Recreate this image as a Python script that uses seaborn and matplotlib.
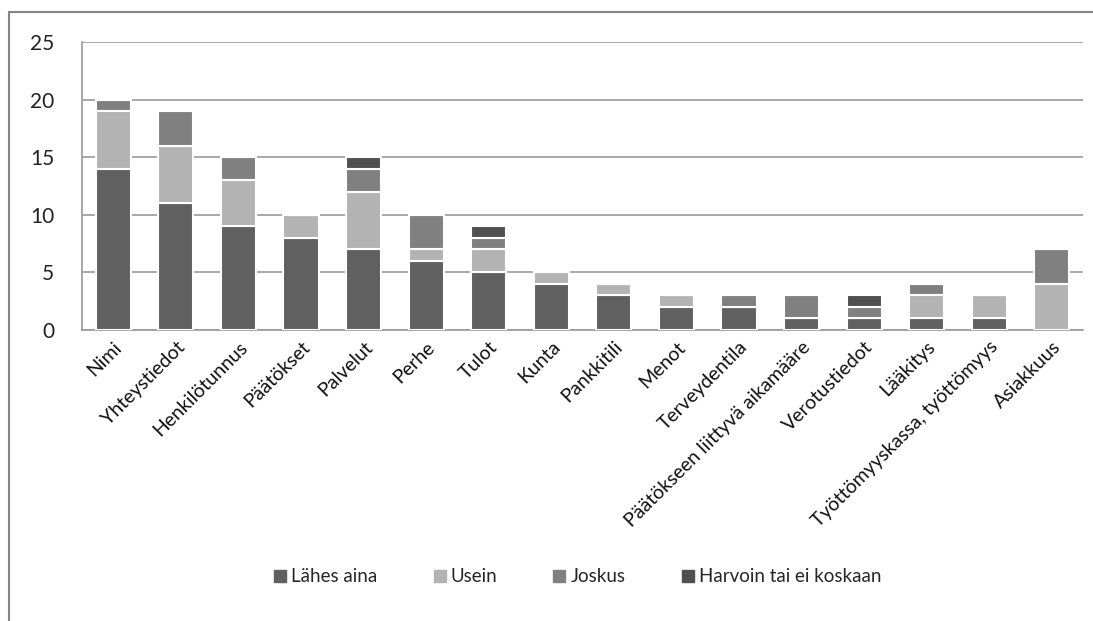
import numpy as np
import pandas as pd
import matplotlib
matplotlib.use("Agg")
import matplotlib.pyplot as plt
import seaborn as sns
from matplotlib.patches import Rectangle
from matplotlib.lines import Line2D


categories = ['Nimi', 'Yhteystiedot', 'Henkilötunnus', 'Päätökset', 'Palvelut',
              'Perhe', 'Tulot', 'Kunta', 'Pankkitili', 'Menot', 'Terveydentila',
              'Päätökseen liittyvä aikamääre', 'Verotustiedot', 'Lääkitys',
              'Työttömyyskassa, työttömyys', 'Asiakkuus']

lahes_aina = [14, 11, 9, 8, 7, 6, 5, 4, 3, 2, 2, 1, 1, 1, 1, 0]
usein = [5, 5, 4, 2, 5, 1, 2, 1, 1, 1, 0, 0, 0, 2, 2, 4]
joskus = [1, 3, 2, 0, 2, 3, 1, 0, 0, 0, 1, 2, 1, 1, 0, 3]
harvoin = [0, 0, 0, 0, 1, 0, 1, 0, 0, 0, 0, 0, 1, 0, 0, 0]

series_names = ['Lähes aina', 'Usein', 'Joskus', 'Harvoin tai ei koskaan']
series_values = [lahes_aina, usein, joskus, harvoin]
series_colors = ['#606060', '#b3b3b3', '#808080', '#505050']

sns.set_style("white")
plt.rcParams['font.family'] = ['Lato', 'DejaVu Sans']

fig = plt.figure(figsize=(10.93, 6.21), dpi=100)
ax = fig.add_axes([0.075, 0.4686, 0.916, 0.4638])

bottom = np.zeros(len(categories))
for name, vals, col in zip(series_names, series_values, series_colors):
    df = pd.DataFrame({'cat': categories, 'val': vals})
    sns.barplot(data=df, x='cat', y='val', order=categories, color=col,
                width=0.56, bottom=bottom.copy(), edgecolor='white',
                linewidth=1.5, errorbar=None, saturation=1, ax=ax, zorder=3)
    bottom += np.array(vals)

ax.set_ylim(0, 25)
ax.set_yticks([0, 5, 10, 15, 20, 25])
ax.set_xlim(-0.5, len(categories) - 0.5)
ax.yaxis.grid(True, color='#9a9a9a', linewidth=1.2, zorder=0)
ax.set_axisbelow(True)
ax.set_xlabel('')
ax.set_ylabel('')

for side in ['top', 'right']:
    ax.spines[side].set_visible(False)
for side in ['left', 'bottom']:
    ax.spines[side].set_color('#9a9a9a')
    ax.spines[side].set_linewidth(1.2)

ax.tick_params(axis='y', labelsize=15, pad=20, length=0, colors='#222222')
ax.tick_params(axis='x', length=0, pad=6)
ax.set_xticks(range(len(categories)))
ax.set_xticklabels(categories, rotation=45, ha='right', rotation_mode='anchor',
                   fontsize=14, color='#111111')

handles = [Line2D([], [], marker='s', linestyle='none', markersize=8,
                  markerfacecolor=c, markeredgecolor=c) for c in series_colors]
fig.legend(handles, series_names, loc='center', bbox_to_anchor=(0.527, 0.071),
           ncol=4, frameon=False, fontsize=13.5, handletextpad=0.1,
           columnspacing=2.8, handlelength=1.0)

fig.add_artist(Rectangle((9 / 1093, -0.05), 1.1, 1 - 12 / 621 + 0.05,
                         transform=fig.transFigure, fill=False,
                         edgecolor='#858585', linewidth=1.5))

fig.savefig('out.png', dpi=100)
